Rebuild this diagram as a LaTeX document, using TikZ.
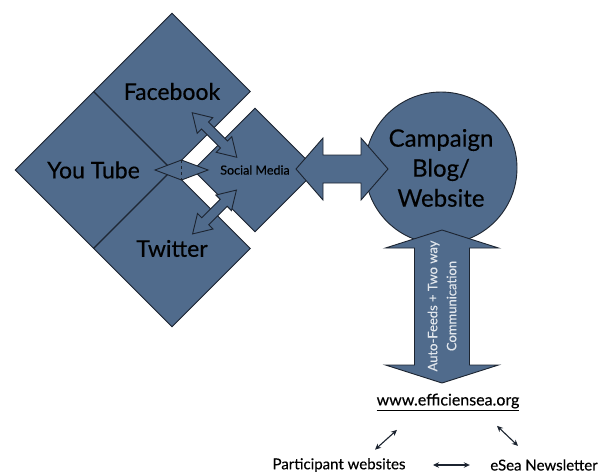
\documentclass[tikz,border=0pt]{standalone}
\usepackage{fontspec}
\setmainfont{Lato}[FakeBold=0.4]
\usetikzlibrary{arrows.meta, shapes.geometric}

\definecolor{slate}{RGB}{80,107,140}
\definecolor{edge}{RGB}{28,36,48}
\definecolor{mist}{RGB}{225,230,236}

\tikzset{
  quad/.style={diamond, draw=edge, fill=slate, line width=0.9pt, inner sep=0pt, aspect=1},
  link/.style={{Stealth[length=6pt,width=5.5pt]}-{Stealth[length=6pt,width=5.5pt]}, line width=1.1pt, draw=edge},
  % double-headed block arrow: length/shaft half width/head half width/head length
  pics/twoway/.style args={#1/#2/#3/#4}{code={
    \draw[draw=edge, fill=slate, line width=0.9pt]
      (-#1/2,0) -- (-#1/2+#4,#3) -- (-#1/2+#4,#2) -- (#1/2-#4,#2) -- (#1/2-#4,#3)
      -- (#1/2,0) -- (#1/2-#4,-#3) -- (#1/2-#4,-#2) -- (-#1/2+#4,-#2) -- (-#1/2+#4,-#3) -- cycle;
  }}
}

\begin{document}
\begin{tikzpicture}[x=1pt, y=-1pt, font=\color{edge}]
\useasboundingbox (0,0) rectangle (610,475);

% the three channels and the hub
\node[quad, minimum width=157pt, minimum height=157pt, font=\fontsize{23}{25}\selectfont] (fb) at (172,91.5) {Facebook};
\node[quad, minimum width=157pt, minimum height=157pt, font=\fontsize{23}{25}\selectfont] (yt) at (93.5,170) {You Tube};
\node[quad, minimum width=157pt, minimum height=157pt, font=\fontsize{23}{25}\selectfont] (tw) at (172,248.5) {Twitter};
\node[quad, minimum width=124pt, minimum height=124pt, font=\fontsize{12.5}{14}\selectfont] (sm) at (255,170) {Social Media};

% small two-way arrows across the gap
\pic[rotate=-45] at (214.5,135) {twoway={63/5/11/18}};
\pic[rotate=45] at (214.5,212) {twoway={62/5/11/18}};
\draw[draw=edge, fill=slate, line width=0.9pt] (155,170) -- (181.5,160) -- (208,170) -- (181.5,180) -- cycle;
\draw[edge, dashed, line width=0.6pt] (181.5,160) -- (181.5,180);

% blog
\node[circle, draw=edge, fill=slate, line width=0.9pt, minimum size=152pt, inner sep=0pt, align=center,
      font=\fontsize{24}{30}\selectfont] (blog) at (441,168) {Campaign\\Blog/\\Website};

% block arrows
\pic at (342,169) {twoway={92/14/31/27}};
\pic[rotate=90] at (442,306.5) {twoway={153/27.5/56.5/18}};
\node[rotate=90, align=center, text=mist, font=\fontsize{13}{19}\selectfont] (feeds) at (442,306) {Auto-Feeds + Two way\\Communication};

% site and its partners
\node[font=\fontsize{16}{18}\selectfont] (www) at (448,402) {\underline{www.efficiensea.org}};
\node[font=\fontsize{15}{17}\selectfont] (part) at (339,465) {Participant websites};
\node[font=\fontsize{15}{17}\selectfont] (news) at (544,465) {eSea Newsletter};
\draw[link] ([xshift=-51pt,yshift=-16pt]www.south) -- ([xshift=36pt,yshift=5pt]part.north);
\draw[link] ([xshift=49pt,yshift=-12pt]www.south) -- ([xshift=-26pt,yshift=10pt]news.north);
\draw[link] ([xshift=24pt]part.east) -- ([xshift=-17pt]news.west);
\end{tikzpicture}
\end{document}
